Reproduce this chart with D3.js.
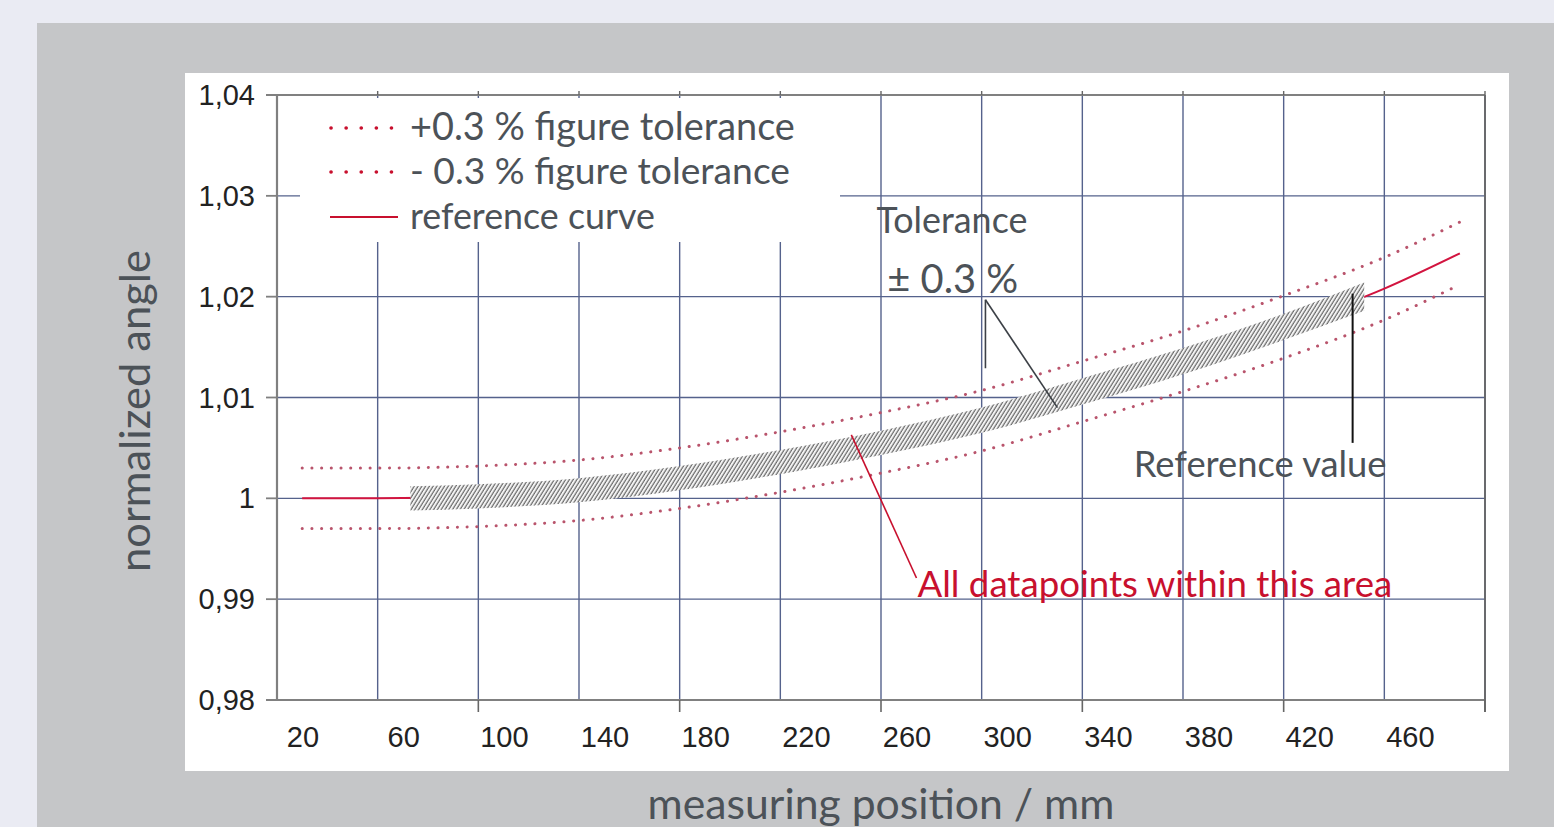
<!DOCTYPE html>
<html>
<head>
<meta charset="utf-8">
<script src="https://cdn.jsdelivr.net/npm/d3@7"></script>
<style>
  html, body { margin: 0; padding: 0; background: #eaebf3; overflow: hidden; }
  svg { display: block; }
</style>
</head>
<body>
<svg id="chart" width="1554" height="827"></svg>
<script>
// ---- data ----
const xTicks = [20, 60, 100, 140, 180, 220, 260, 300, 340, 380, 420, 460, 500];
const xLabels = [20, 60, 100, 140, 180, 220, 260, 300, 340, 380, 420, 460];
const yTicks = [0.98, 0.99, 1.0, 1.01, 1.02, 1.03, 1.04];
const yLabels = ["0,98", "0,99", "1", "1,01", "1,02", "1,03", "1,04"];

// reference curve (measuring position in mm, normalized angle)
const refPos = [30, 60, 100, 140, 180, 220, 260, 300, 340, 380, 420, 460, 490];
const refVal = [1.0, 1.0, 1.0002, 1.0008, 1.002, 1.0036, 1.0055, 1.0077, 1.0106, 1.0136, 1.017, 1.0208, 1.0243];
// +0.3 % / -0.3 % figure tolerance
const upperVal = [1.003, 1.003, 1.0032, 1.0038, 1.005, 1.0066, 1.0085, 1.0107, 1.0136, 1.0166, 1.0201, 1.0239, 1.0274];
const lowerVal = [0.997, 0.997, 0.9972, 0.9978, 0.999, 1.0006, 1.0025, 1.0047, 1.0076, 1.0106, 1.0139, 1.0177, 1.0212];

// hatched area containing all data points
const bandPos = [73, 100, 140, 180, 220, 260, 300, 340, 380, 420, 452];
const bandHi = [1.0012, 1.0014, 1.002, 1.0032, 1.0048, 1.0067, 1.009, 1.0119, 1.0149, 1.0183, 1.0214];
const bandLo = [0.9988, 0.999, 0.9996, 1.0008, 1.0024, 1.0043, 1.0065, 1.0093, 1.0123, 1.0157, 1.0186];

// ---- layout ----
const svg = d3.select("#chart");
const RED = "#c8102e";
const TXT = "#4c5258";
const FUT = "Lato, 'Open Sans', sans-serif";

const x = d3.scaleLinear().domain([20, 500]).range([277, 1485]);
const y = d3.scaleLinear().domain([0.98, 1.04]).range([700, 95]);

// make a text fit a given width (the original font is not installed)
function fit(sel, w) {
  const fs = parseFloat(sel.attr("font-size"));
  const cur = sel.node().getComputedTextLength();
  sel.attr("font-size", (fs * w) / cur);
  return sel;
}

// grey panel + white picture
svg.append("rect").attr("x", 37).attr("y", 23).attr("width", 1517).attr("height", 804).attr("fill", "#c5c6c8");
svg.append("rect").attr("x", 185).attr("y", 73).attr("width", 1324).attr("height", 698).attr("fill", "#ffffff");

const defs = svg.append("defs");
const pat = defs.append("pattern")
  .attr("id", "hatch")
  .attr("patternUnits", "userSpaceOnUse")
  .attr("width", 3.2)
  .attr("height", 10)
  .attr("patternTransform", "rotate(32)");
pat.append("rect").attr("width", 3.2).attr("height", 10).attr("fill", "#f4f4f4");
pat.append("line").attr("x1", 1).attr("y1", 0).attr("x2", 1).attr("y2", 10)
  .attr("stroke", "#6a6a6a").attr("stroke-width", 1.2);

// grid
const grid = svg.append("g");
grid.selectAll(".vg").data(xTicks.slice(1)).join("line")
  .attr("x1", (d) => x(d)).attr("x2", (d) => x(d))
  .attr("y1", y(1.04)).attr("y2", y(0.98))
  .attr("stroke", "#55628c").attr("stroke-width", 1.4);
grid.selectAll(".hg").data(yTicks.slice(1)).join("line")
  .attr("x1", x(20)).attr("x2", x(500))
  .attr("y1", (d) => y(d)).attr("y2", (d) => y(d))
  .attr("stroke", "#55628c").attr("stroke-width", 1.4);

// axes frame
svg.append("line").attr("x1", x(20)).attr("x2", x(20)).attr("y1", y(1.04)).attr("y2", y(0.98))
  .attr("stroke", "#808080").attr("stroke-width", 2.2);
svg.append("line").attr("x1", x(20) - 11).attr("x2", x(500)).attr("y1", y(0.98)).attr("y2", y(0.98))
  .attr("stroke", "#808080").attr("stroke-width", 2.2);
svg.append("line").attr("x1", x(20) - 11).attr("x2", x(500)).attr("y1", y(1.04)).attr("y2", y(1.04))
  .attr("stroke", "#808080").attr("stroke-width", 1.8);
svg.append("line").attr("x1", x(500)).attr("x2", x(500)).attr("y1", y(1.04)).attr("y2", y(0.98) + 12)
  .attr("stroke", "#666").attr("stroke-width", 1.8);

// y ticks + labels
svg.selectAll(".yt").data(yTicks).join("line")
  .attr("x1", x(20) - 11).attr("x2", x(20))
  .attr("y1", (d) => y(d)).attr("y2", (d) => y(d))
  .attr("stroke", "#808080").attr("stroke-width", 1.8);
svg.selectAll(".yl").data(yTicks).join("text")
  .attr("x", x(20) - 22).attr("y", (d) => y(d) + 10)
  .attr("text-anchor", "end")
  .attr("font-family", "'Liberation Sans', Arial, sans-serif")
  .attr("font-size", 29).attr("fill", "#222")
  .text((d, i) => yLabels[i]);

// x ticks (every second grid line) + labels, labels sit right of their line
svg.selectAll(".xt").data(xTicks.filter((d, i) => i % 2 === 0 && i > 0)).join("line")
  .attr("x1", (d) => x(d)).attr("x2", (d) => x(d))
  .attr("y1", y(0.98)).attr("y2", y(0.98) + 12)
  .attr("stroke", "#666").attr("stroke-width", 1.6);
svg.selectAll(".xtt").data(xTicks.slice(1)).join("line")
  .attr("x1", (d) => x(d)).attr("x2", (d) => x(d))
  .attr("y1", y(1.04) - 4).attr("y2", y(1.04))
  .attr("stroke", "#666").attr("stroke-width", 1.4);
svg.selectAll(".xl").data(xLabels).join("text")
  .attr("x", (d) => x(d) + 26).attr("y", y(0.98) + 47)
  .attr("text-anchor", "middle")
  .attr("font-family", "'Liberation Sans', Arial, sans-serif")
  .attr("font-size", 29).attr("fill", "#222")
  .text((d) => d);

// legend box hides the grid behind it
svg.append("rect").attr("x", 300).attr("y", 98).attr("width", 540).attr("height", 144).attr("fill", "#fff");

// curves
const pts = (vals) => refPos.map((p, i) => [p, vals[i]]);
const line = d3.line().x((d) => x(d[0])).y((d) => y(d[1])).curve(d3.curveMonotoneX);

svg.append("path").attr("d", line(pts(refVal)))
  .attr("fill", "none").attr("stroke", "#d2143f").attr("stroke-width", 2);

[upperVal, lowerVal].forEach((vals) => {
  svg.append("path").attr("d", line(pts(vals)))
    .attr("fill", "none").attr("stroke", "#b9546c").attr("stroke-width", 3)
    .attr("stroke-linecap", "round").attr("stroke-dasharray", "0.1 9.6");
});

const area = d3.area()
  .x((d) => x(d.p)).y0((d) => y(d.lo)).y1((d) => y(d.hi))
  .curve(d3.curveMonotoneX);
svg.append("path")
  .attr("d", area(bandPos.map((p, i) => ({ p: p, hi: bandHi[i], lo: bandLo[i] }))))
  .attr("fill", "url(#hatch)");

// legend
const lg = svg.append("g").attr("transform", "translate(330,0)");
const legendRows = [
  { label: "+0.3 % figure tolerance", dotted: true, y: 128, w: 385 },
  { label: "- 0.3 % figure tolerance", dotted: true, y: 172, w: 380 },
  { label: "reference curve", dotted: false, y: 217, w: 245 },
];
legendRows.forEach((r) => {
  lg.append("line").attr("x1", r.dotted ? 1 : 0).attr("x2", 68).attr("y1", r.y).attr("y2", r.y)
    .attr("stroke", RED)
    .attr("stroke-width", r.dotted ? 3.6 : 2)
    .attr("stroke-linecap", r.dotted ? "round" : "butt")
    .attr("stroke-dasharray", r.dotted ? "0.1 15" : null);
  fit(lg.append("text").attr("x", 80).attr("y", r.y + 12)
    .attr("font-family", FUT).attr("font-size", 32).attr("fill", TXT).text(r.label), r.w);
});

// annotations (anchored in data units)
const leader = (a, b, col, w) =>
  svg.append("line").attr("x1", x(a[0])).attr("y1", y(a[1])).attr("x2", x(b[0])).attr("y2", y(b[1]))
    .attr("stroke", col).attr("stroke-width", w);
leader([301.5, 1.0197], [301.5, 1.0129], "#3c4046", 1.6);
leader([301.5, 1.0197], [330.1, 1.009], "#3c4046", 1.6);
leader([447.4, 1.0203], [447.4, 1.0055], "#111", 2);
leader([248.2, 1.0063], [274.1, 0.9921], RED, 1.6);

const notes = [
  { text: "Tolerance", p: 258.2, v: 1.0263, w: 151, col: TXT },
  { text: "\u00b1 0.3 %", p: 262.5, v: 1.0204, w: 131, col: TXT },
  { text: "Reference value", p: 360.4, v: 1.0021, w: 253, col: TXT },
  { text: "All datapoints within this area", p: 274.5, v: 0.9902, w: 475, col: RED },
];
notes.forEach((n) => {
  fit(svg.append("text").attr("x", x(n.p)).attr("y", y(n.v))
    .attr("font-family", FUT).attr("font-size", 32).attr("fill", n.col).text(n.text), n.w);
});

// axis titles on the grey panel
fit(svg.append("text")
  .attr("transform", "translate(150,411) rotate(-90)")
  .attr("text-anchor", "middle")
  .attr("font-family", FUT).attr("font-size", 38).attr("fill", TXT)
  .text("normalized angle"), 322);
fit(svg.append("text")
  .attr("x", 881).attr("y", 819)
  .attr("text-anchor", "middle")
  .attr("font-family", FUT).attr("font-size", 38).attr("fill", TXT)
  .text("measuring position / mm"), 467);
</script>
</body>
</html>
